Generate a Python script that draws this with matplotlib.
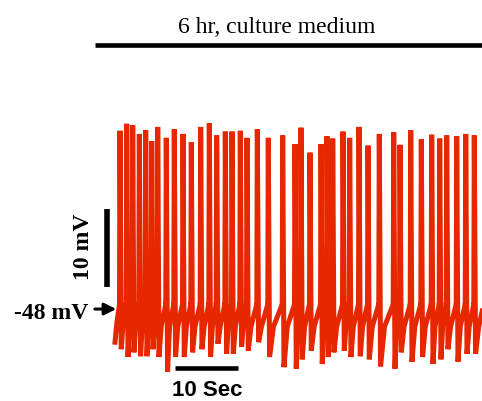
import numpy as np
import matplotlib as mpl
from matplotlib import pyplot as plt

# spike times (s), peak and after-hyperpolarisation trough (mV)
spike_t = [0.79, 1.86, 2.81, 3.86, 4.87, 5.83, 6.78, 8.14, 9.41, 10.79,
           12.11, 13.60, 14.97, 16.14, 17.51, 18.57, 19.89, 20.95, 22.59, 24.33,
           26.62, 28.57, 29.52, 30.95, 32.70, 33.65, 34.56, 36.19, 37.25, 38.73,
           40.16, 41.95, 44.24, 45.24, 46.94, 48.62, 50.27, 51.54, 52.65, 54.24,
           55.67, 57.03]
peak_mv = [-24.9, -24.0, -24.2, -25.3, -24.8, -26.2, -24.4, -25.8, -24.7, -25.3,
           -26.4, -24.4, -23.9, -25.5, -25.0, -25.0, -24.9, -25.8, -24.7, -25.8,
           -25.5, -26.6, -24.5, -27.7, -26.6, -25.6, -25.9, -25.0, -25.8, -24.4,
           -26.8, -25.3, -25.1, -26.7, -24.8, -26.0, -25.4, -25.9, -25.5, -25.6,
           -25.3, -25.5]
trough_mv = [-52.9, -53.9, -53.3, -53.8, -53.8, -52.9, -53.9, -55.8, -53.9, -53.9,
             -53.3, -52.9, -53.9, -52.2, -53.5, -53.5, -52.6, -53.1, -52.0, -53.9,
             -55.2, -55.4, -54.2, -53.1, -54.8, -53.9, -53.3, -53.1, -53.9, -53.8,
             -54.2, -55.1, -55.4, -53.3, -54.5, -53.9, -54.8, -54.2, -52.9, -54.5,
             -53.5, -53.5]
threshold = -47.2
recovered = -50.0
rest = -48
t_start, t_end = 0.0, 58.3

# build the membrane trace: upstroke, AHP trough, recovery, ramp to threshold
tt = [t_start, 0.3]
vv = [-52.0, -49.5]
for i, (t, pk, tr) in enumerate(zip(spike_t, peak_mv, trough_mv)):
    tt += [t - 0.08, t, t + 0.2]
    vv += [threshold, pk, tr]
    nxt = spike_t[i + 1] if i + 1 < len(spike_t) else t_end + 0.6
    t0 = t + 0.2
    gap = nxt - t0
    tt.append(t0 + 0.3 * gap)
    vv.append(recovered)
    if i + 1 < len(spike_t):
        tt.append(nxt - 0.1)
        vv.append(threshold)
    else:
        tt.append(t_end)
        vv.append(threshold - 0.8)

red = '#e62700'

fig = plt.figure(figsize=(4.82, 4.02), dpi=100)
ax = fig.add_axes([0, 0, 1, 1])
ax.set_xlim(-18.254, 58.254)
ax.set_ylim(-59.538, -8.0)
ax.axis('off')

ax.plot(tt, vv, color=red, lw=3.6, solid_joinstyle='miter')

# treatment bar
ax.plot([-3.17, 58.3], [-13.87, -13.87], color='black', lw=3.3, solid_capstyle='butt')
ax.text(25.7, -12.2, '6 hr, culture medium', ha='center', va='baseline',
        family='Liberation Serif', fontsize=17)

# scale bars
ax.plot([9.52, 19.52], [-55.37, -55.37], color='black', lw=3.3, solid_capstyle='butt')
ax.text(14.6, -58.8, '10 Sec', ha='center', va='baseline',
        family='Liberation Sans', weight='bold', fontsize=16)
ax.plot([-1.27, -1.27], [-44.92, -34.92], color='black', lw=4.0, solid_capstyle='butt')
ax.text(-5.0, -39.6, '10 mV', ha='center', va='center', rotation=90,
        family='Liberation Serif', weight='bold', fontsize=17)

# resting potential marker
ax.annotate('', xy=(0.2, rest + 0.25), xytext=(-3.2, rest + 0.25),
            arrowprops=dict(arrowstyle='-|>,head_length=0.7,head_width=0.35',
                            color='black', lw=2.2, shrinkA=0, shrinkB=0))
ax.text(-4.3, rest - 0.2, '-48 mV', ha='right', va='center',
        family='Liberation Serif', weight='bold', fontsize=17)

fig.savefig('out.png', dpi=100)
